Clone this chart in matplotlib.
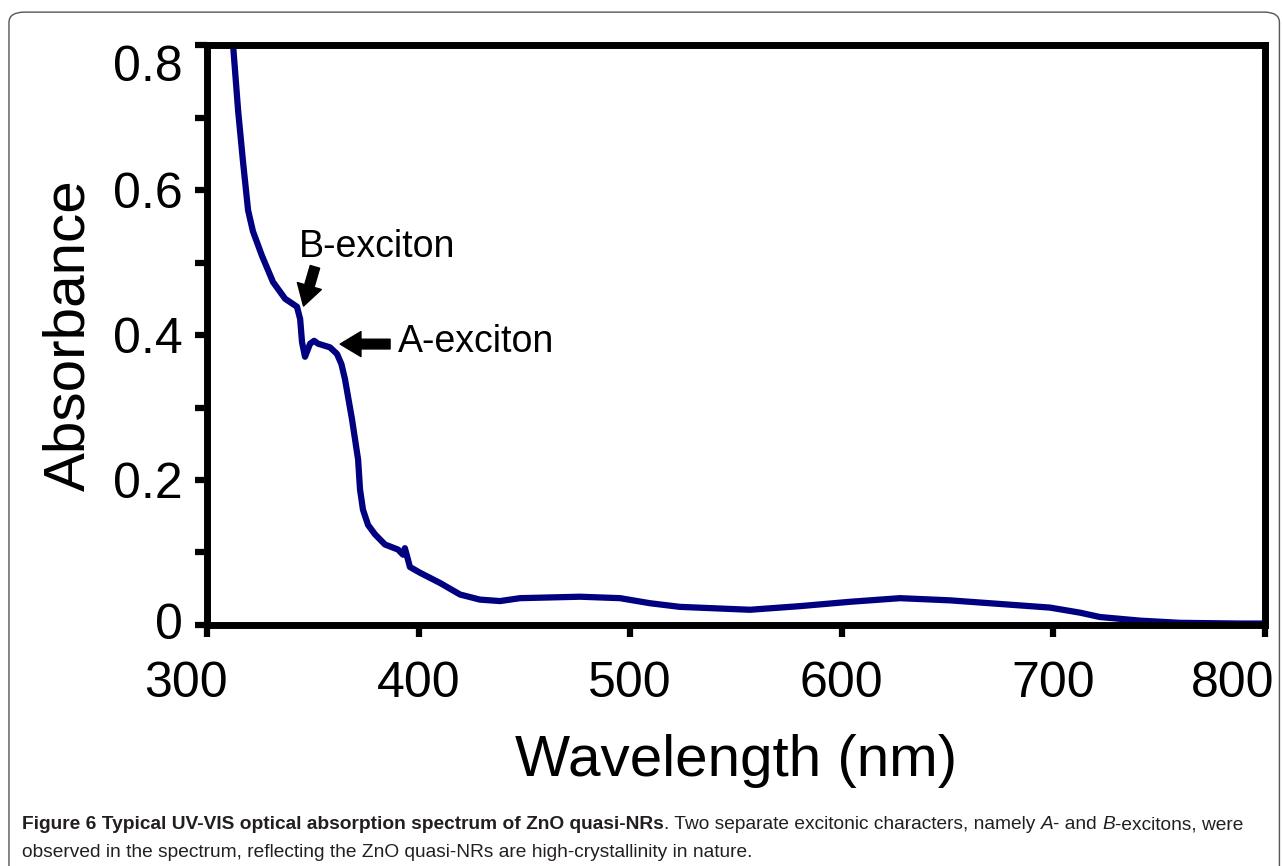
import numpy as np
import matplotlib
matplotlib.use('Agg')
from matplotlib import pyplot as plt
from matplotlib.patches import FancyBboxPatch
from matplotlib.transforms import ScaledTranslation

# spectrum
wavelength = [312.3, 314.7, 317.0, 319.4, 321.7, 326.0, 331.2, 336.9, 342.5, 344.0,
              344.9, 346.3, 348.7, 350.6, 352.5, 358.1, 361.4, 363.5, 365.2, 368.5,
              371.4, 372.3, 373.7, 376.1, 379.4, 384.1, 390.3, 392.6, 393.5, 395.9,
              400.7, 410.1, 419.6, 429.0, 438.5, 447.9, 476.3, 495.2, 509.4, 523.5,
              556.6, 580.2, 603.9, 627.5, 651.1, 674.8, 698.4, 712.6, 722.0, 741.0,
              759.8, 788.2, 798.6]
absorbance = [0.800, 0.709, 0.639, 0.572, 0.543, 0.509, 0.473, 0.450, 0.439, 0.422,
              0.390, 0.370, 0.388, 0.392, 0.388, 0.383, 0.374, 0.360, 0.339, 0.284,
              0.228, 0.187, 0.159, 0.138, 0.125, 0.111, 0.104, 0.097, 0.106, 0.080,
              0.072, 0.058, 0.042, 0.035, 0.033, 0.037, 0.039, 0.037, 0.030, 0.025,
              0.021, 0.026, 0.032, 0.037, 0.034, 0.029, 0.024, 0.017, 0.011, 0.006,
              0.003, 0.002, 0.002]

x_ticks = [300, 400, 500, 600, 700, 800]
y_ticks = [0, 0.2, 0.4, 0.6, 0.8]
y_tick_labels = ['0', '0.2', '0.4', '0.6', '0.8']

plt.rcParams['font.family'] = ['Liberation Sans', 'DejaVu Sans']

fig = plt.figure(figsize=(12.82, 8.66), dpi=100)
ax = fig.add_axes([0.1615, 0.2783, 0.8252, 0.6697])

ax.plot(wavelength, absorbance, color='#000080', lw=4.5, solid_joinstyle='round')
ax.set_xlim(300, 800)
ax.set_ylim(0, 0.8)
ax.set_xticks(x_ticks)
ax.set_yticks(y_ticks)
ax.set_yticklabels(y_tick_labels)
ax.set_yticks(np.arange(0.1, 0.8, 0.2), minor=True)
ax.tick_params(axis='both', which='both', direction='out', length=8.6, width=4.5,
               labelsize=36, colors='black')
ax.tick_params(axis='y', pad=9)
ax.tick_params(axis='x', pad=17)
for s in ax.spines.values():
    s.set_linewidth(5)
ax.set_xlabel('Wavelength (nm)', fontsize=42, labelpad=20)
ax.set_ylabel('Absorbance', fontsize=42, labelpad=12)

# end labels sit shifted as in the original
def shift(lbl, dx, dy):
    lbl.set_transform(lbl.get_transform() + ScaledTranslation(dx / 100, dy / 100, fig.dpi_scale_trans))

xl = ax.get_xticklabels()
shift(xl[0], -21, 0)
shift(xl[-1], -32, 0)
yl = ax.get_yticklabels()
shift(yl[-1], 0, -18)
shift(yl[0], 0, 4)

# annotations
arr = dict(arrowstyle='simple,head_length=0.75,head_width=0.9,tail_width=0.35',
           color='black', shrinkA=0, shrinkB=0, mutation_scale=20)
ax.annotate('', xy=(345.6, 0.440), xytext=(351.0, 0.494), arrowprops=arr)
ax.text(343.5, 0.522, 'B-exciton', fontsize=27, ha='left', va='center')
ax.annotate('', xy=(362.9, 0.3875), xytext=(386.5, 0.3875), arrowprops=arr)
ax.text(390.3, 0.391, 'A-exciton', fontsize=27, ha='left', va='center')

# border
fig.patches.append(FancyBboxPatch((0.007, -0.02), 0.991, 1.006,
                                  boxstyle='round,pad=0,rounding_size=0.012',
                                  transform=fig.transFigure, fill=False,
                                  edgecolor='#555555', lw=1.0))

# caption, piece by piece
fig.canvas.draw()
r = fig.canvas.get_renderer()
pieces1 = [('Figure 6 Typical UV-VIS optical absorption spectrum of ZnO quasi-NRs', 'bold', 'normal'),
           ('. Two separate excitonic characters, namely ', 'normal', 'normal'),
           ('A', 'normal', 'italic'),
           ('- and ', 'normal', 'normal'),
           ('B', 'normal', 'italic'),
           ('-excitons, were', 'normal', 'normal')]
cap_size = 13.75
xpos = 22 / 1282
ypos = 1 - 829 / 866
for txt, w, st in pieces1:
    t = fig.text(xpos, ypos, txt, fontsize=cap_size, fontweight=w, fontstyle=st,
                 color='#231f20', va='baseline')
    bb = t.get_window_extent(renderer=r)
    xpos = bb.x1 / fig.bbox.width
fig.text(22 / 1282, 1 - 857 / 866,
         'observed in the spectrum, reflecting the ZnO quasi-NRs are high-crystallinity in nature.',
         fontsize=cap_size, color='#231f20', va='baseline')

fig.savefig('out.png', dpi=100)
